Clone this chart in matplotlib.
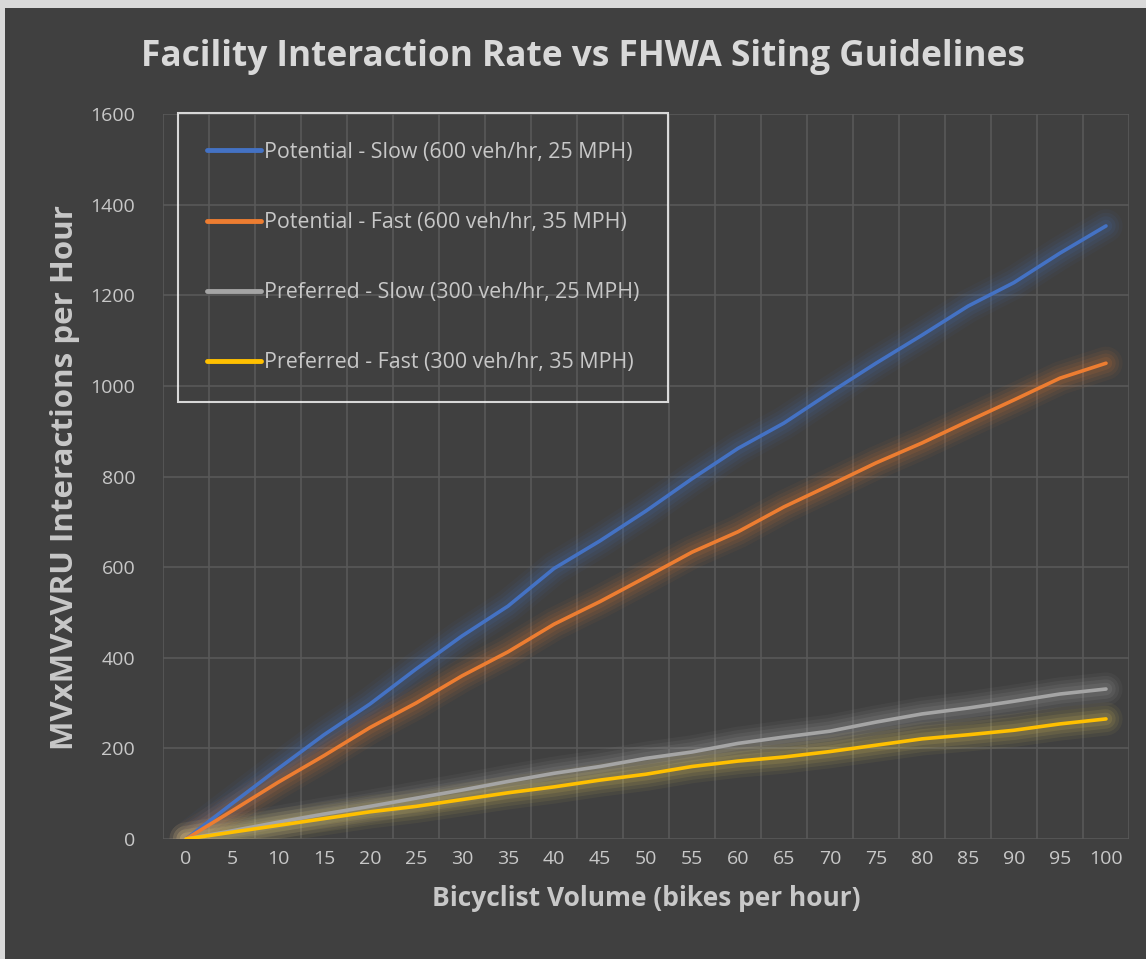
import matplotlib
matplotlib.use("Agg")
import matplotlib.pyplot as plt
from matplotlib.patches import Rectangle
import numpy as np

plt.rcParams['font.family'] = ['Open Sans', 'DejaVu Sans']

bikes = [0, 5, 10, 15, 20, 25, 30, 35, 40, 45, 50, 55, 60, 65, 70, 75, 80, 85, 90, 95, 100]
potential_slow = [0, 78, 155, 230, 298, 375, 448, 514, 597, 658, 724, 795, 862, 918, 985, 1050, 1112, 1176, 1228, 1293, 1353]
potential_fast = [0, 62, 125, 184, 246, 300, 360, 413, 474, 524, 578, 633, 678, 733, 781, 830, 874, 922, 969, 1017, 1050]
preferred_slow = [0, 18, 37, 55, 72, 90, 108, 127, 145, 160, 178, 192, 211, 225, 238, 258, 276, 289, 304, 320, 331]
preferred_fast = [0, 15, 30, 45, 60, 72, 87, 102, 115, 130, 143, 160, 172, 181, 193, 207, 221, 230, 240, 254, 265]

series_names = [
    "Potential - Slow (600 veh/hr, 25 MPH)",
    "Potential - Fast (600 veh/hr, 35 MPH)",
    "Preferred - Slow (300 veh/hr, 25 MPH)",
    "Preferred - Fast (300 veh/hr, 35 MPH)",
]
series_values = [potential_slow, potential_fast, preferred_slow, preferred_fast]
colors = ["#4472C4", "#ED7D31", "#A5A5A5", "#FFC000"]
glow_colors = ["#4472C4", "#ED7D31", "#B8B8B8", "#FFE060"]

BG = "#404040"
TXT = "#C8C8C8"
TITLE = "#D9D9D9"
GRID = "#595959"

fig = plt.figure(figsize=(11.46, 9.59), dpi=100, facecolor=BG)
ax = fig.add_axes([163/1146, 1 - 839/959, (1129-163)/1146, (839-114)/959])
ax.set_facecolor(BG)

x = np.arange(len(bikes))
handles = []
for vals, c, gc, name in zip(series_values, colors, glow_colors, series_names):
    for w, a in [(24, 0.05), (19, 0.07), (14, 0.09), (9, 0.11)]:
        ax.plot(x, vals, color=gc, lw=w, alpha=a, solid_capstyle='round',
                solid_joinstyle='round', zorder=2)
    h, = ax.plot(x, vals, color=c, lw=2.6, solid_capstyle='round',
                 solid_joinstyle='round', zorder=3, label=name)
    handles.append(h)

ax.set_xlim(-0.5, len(bikes) - 0.5)
ax.set_ylim(0, 1600)
ax.set_yticks(np.arange(0, 1601, 200))
ax.set_xticks(x)
ax.set_xticklabels([str(b) for b in bikes])
ax.set_xticks(np.arange(-0.5, len(bikes), 1.0), minor=True)
ax.grid(False)
ax.yaxis.grid(True, color=GRID, lw=1.2, zorder=0)
ax.xaxis.grid(True, which='minor', color=GRID, lw=1.2, zorder=0)
for s in ax.spines.values():
    s.set_visible(False)
ax.tick_params(axis='both', which='both', length=0, colors=TXT, labelsize=14)
ax.tick_params(axis='y', pad=20)
ax.tick_params(axis='x', pad=8)

ax.set_xlabel("Bicyclist Volume (bikes per hour)", color=TXT, fontsize=19,
              fontweight='bold', labelpad=12)
fig.text(65/1146, 1 - 477/959, "MVxMVxVRU Interactions per Hour", color=TXT,
         fontsize=22.5, fontweight='bold', rotation=90, ha='center', va='center')

fig.text(583/1146, 1 - 57/959, "Facility Interaction Rate vs FHWA Siting Guidelines",
         color=TITLE, fontsize=25.4, fontweight='bold', ha='center', va='center')

leg = ax.legend(handles=handles, loc='upper left',
                bbox_to_anchor=((178-163)/966, 1 - (113-114)/725),
                frameon=True, fancybox=False, facecolor='none', edgecolor='white',
                labelcolor=TXT, fontsize=15.4, handlelength=2.55, handletextpad=0.1,
                labelspacing=2.3, borderpad=1.35, borderaxespad=0)
leg.get_frame().set_linewidth(1.5)
for lh in leg.get_lines():
    lh.set_linewidth(3.5)

fig.patches.append(Rectangle((0, 1 - 8/959), 1, 8/959, transform=fig.transFigure,
                             facecolor="#D9D9D9", edgecolor='none', zorder=10))
fig.patches.append(Rectangle((0, 0), 5/1146, 1, transform=fig.transFigure,
                             facecolor="#D9D9D9", edgecolor='none', zorder=10))

fig.savefig("out.png", dpi=100, facecolor=BG)
